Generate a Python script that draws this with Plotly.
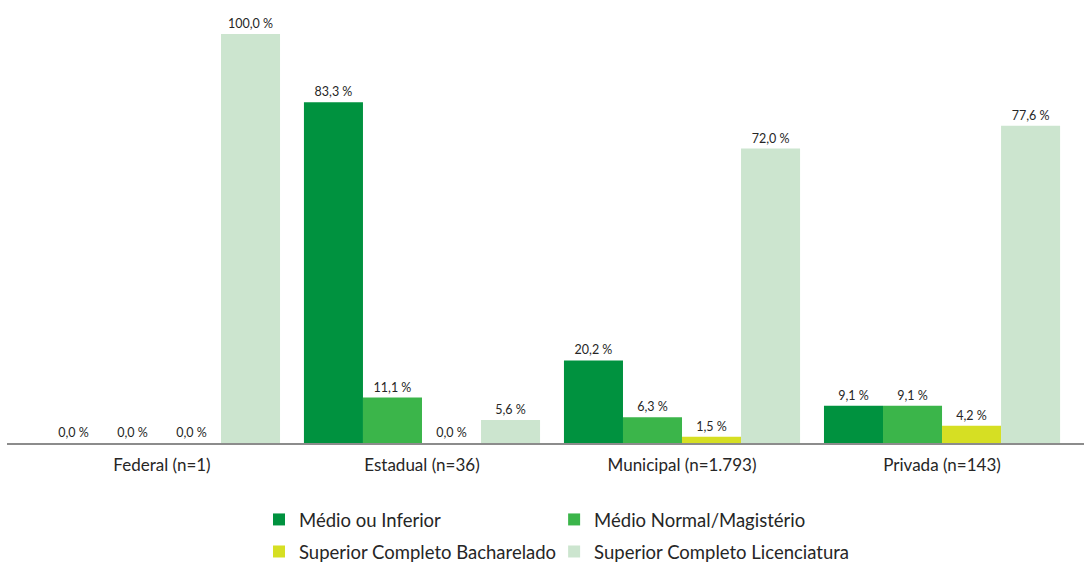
import plotly.graph_objects as go

categorias = ["Federal (n=1)", "Estadual (n=36)", "Municipal (n=1.793)", "Privada (n=143)"]

medio_inferior = [0.0, 83.3, 20.2, 9.1]
medio_normal = [0.0, 11.1, 6.3, 9.1]
sup_bacharelado = [0.0, 0.0, 1.5, 4.2]
sup_licenciatura = [100.0, 5.6, 72.0, 77.6]

series = [
    ("Médio ou Inferior", medio_inferior, "#00923F", "legend"),
    ("Médio Normal/Magistério", medio_normal, "#3BB54A", "legend2"),
    ("Superior Completo Bacharelado", sup_bacharelado, "#D6DF23", "legend"),
    ("Superior Completo Licenciatura", sup_licenciatura, "#CCE5CF", "legend2"),
]


def fmt(v):
    return f"{v:.1f}".replace(".", ",") + " %"


FONT = "Lato, Calibri, sans-serif"

fig = go.Figure()
for i, (nome, vals, cor, leg) in enumerate(series):
    fig.add_trace(go.Bar(
        x=categorias, y=vals, name=nome,
        marker=dict(color=cor, line=dict(width=0)),
        text=[fmt(v) for v in vals],
        textposition="outside",
        textfont=dict(size=12.5, color="#262626", family=FONT),
        cliponaxis=False,
        legend=leg,
        legendgroup=nome,
    ))

fig.update_layout(
    width=1084, height=562,
    margin=dict(l=7, r=0, t=14, b=119, autoexpand=False),
    plot_bgcolor="white", paper_bgcolor="white",
    barmode="group", bargap=0.092, bargroupgap=0,
    font=dict(family=FONT, size=17, color="#262626"),
    xaxis=dict(
        range=[-0.596, 3.546],
        showline=True, linecolor="#8C8C8C", linewidth=1.5,
        showgrid=False, ticks="outside", ticklen=6, tickcolor="white",
        tickfont=dict(size=17),
    ),
    yaxis=dict(range=[0, 104.9], visible=False),
    legend=dict(
        x=0.234, y=-0.135, xanchor="left", yanchor="top",
        orientation="v", tracegroupgap=5,
        font=dict(size=18.5), bgcolor="rgba(0,0,0,0)",
    ),
    legend2=dict(
        x=0.508, y=-0.135, xanchor="left", yanchor="top",
        orientation="v", tracegroupgap=5,
        font=dict(size=18.5), bgcolor="rgba(0,0,0,0)",
    ),
)

fig.write_html("out.html", config={"displayModeBar": False},
               post_script="document.body.style.margin='0';")
